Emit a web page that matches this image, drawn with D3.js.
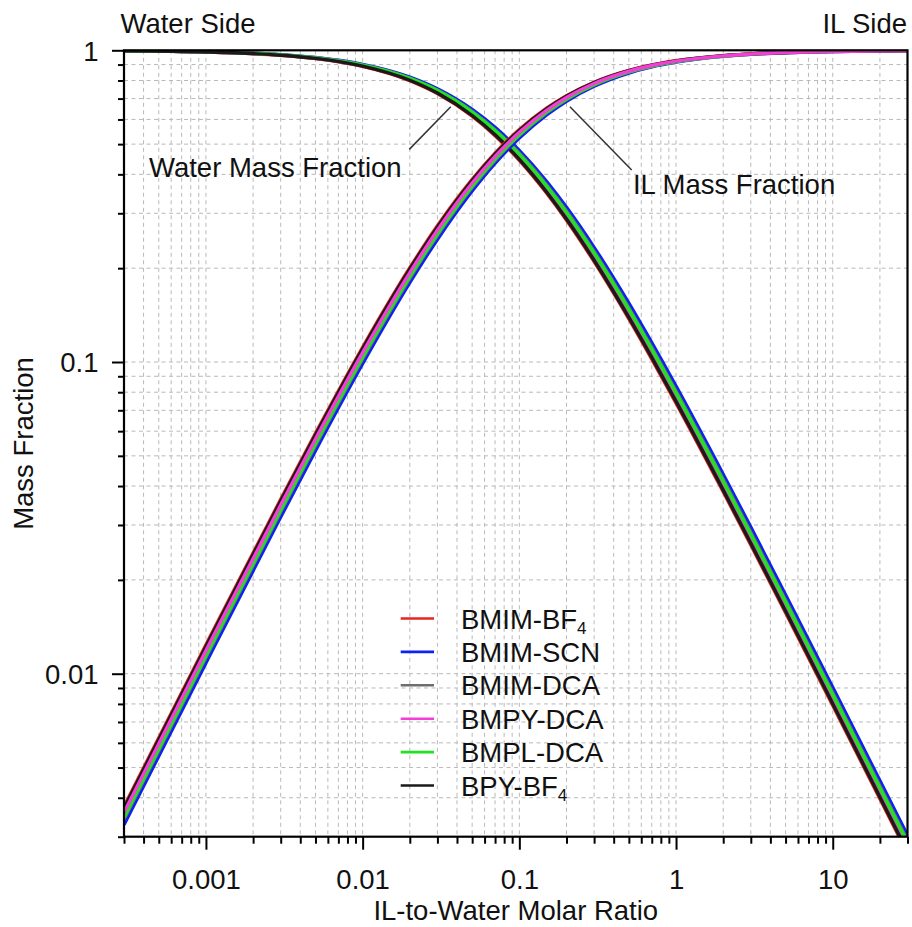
<!DOCTYPE html>
<html>
<head>
<meta charset="utf-8">
<script src="https://cdn.jsdelivr.net/npm/d3@7"></script>
<style>
  html, body { margin: 0; padding: 0; background: #ffffff; }
  svg text { font-family: "Liberation Sans", Arial, Helvetica, sans-serif; fill: #111; }
</style>
</head>
<body>
<svg id="chart" width="912" height="927"></svg>
<script>
// IL-to-water molar ratio at which each mass fraction is tabulated
const ratio = [0.0003, 0.001, 0.003, 0.005, 0.01, 0.02, 0.03, 0.05, 0.07, 0.1, 0.15,
               0.2, 0.3, 0.5, 0.7, 1, 2, 3, 5, 10, 30];

// Ionic liquids (legend labels split into main text and subscript)
const ilNames   = ["BMIM-BF", "BMIM-SCN", "BMIM-DCA", "BMPY-DCA", "BMPL-DCA", "BPY-BF"];
const ilSubs    = ["4", "", "", "", "", "4"];
const ilColors  = ["#e8261e", "#0b22f2", "#6e6e6e", "#f53ed8", "#1fe31f", "#1a1a1a"];

// IL mass fraction, one array per ionic liquid
const ilBMIMBF4 = [0.003750, 0.01239, 0.03627, 0.05903, 0.1115, 0.2006, 0.2735, 0.3855, 0.4676, 0.5565, 0.6530,
                   0.7150, 0.7901, 0.8625, 0.8978, 0.9262, 0.9617, 0.9741, 0.9843, 0.9921, 0.9974];
const ilBMIMSCN = [0.003275, 0.01083, 0.03181, 0.05192, 0.09871, 0.1797, 0.2473, 0.3538, 0.4340, 0.5227, 0.6216,
                   0.6866, 0.7667, 0.8456, 0.8846, 0.9163, 0.9563, 0.9705, 0.9821, 0.9910, 0.9970];
const ilBMIMDCA = [0.003407, 0.01127, 0.03305, 0.05390, 0.1023, 0.1856, 0.2547, 0.3629, 0.4437, 0.5326, 0.6309,
                   0.6950, 0.7737, 0.8507, 0.8886, 0.9193, 0.9580, 0.9716, 0.9827, 0.9913, 0.9971];
const ilBMPYDCA = [0.003589, 0.01186, 0.03477, 0.05663, 0.1072, 0.1936, 0.2648, 0.3751, 0.4566, 0.5456, 0.6430,
                   0.7060, 0.7827, 0.8572, 0.8937, 0.9231, 0.9600, 0.9730, 0.9836, 0.9917, 0.9972];
const ilBMPLDCA = [0.003457, 0.01143, 0.03353, 0.05465, 0.1036, 0.1878, 0.2575, 0.3663, 0.4473, 0.5362, 0.6343,
                   0.6981, 0.7762, 0.8525, 0.8900, 0.9204, 0.9586, 0.9720, 0.9830, 0.9914, 0.9971];
const ilBPYBF4  = [0.003700, 0.01223, 0.03581, 0.05829, 0.1102, 0.1985, 0.2708, 0.3823, 0.4643, 0.5532, 0.6500,
                   0.7123, 0.7879, 0.8609, 0.8965, 0.9253, 0.9612, 0.9738, 0.9841, 0.9920, 0.9973];

// Water mass fraction, one array per ionic liquid
const wBMIMBF4 = [0.9963, 0.9876, 0.9637, 0.9410, 0.8885, 0.7994, 0.7265, 0.6145, 0.5324, 0.4435, 0.3470,
                  0.2850, 0.2099, 0.1375, 0.1022, 0.07382, 0.03833, 0.02588, 0.01569, 0.007908, 0.002650];
const wBMIMSCN = [0.9967, 0.9892, 0.9682, 0.9481, 0.9013, 0.8203, 0.7527, 0.6462, 0.5660, 0.4773, 0.3784,
                  0.3134, 0.2333, 0.1544, 0.1154, 0.08367, 0.04366, 0.02954, 0.01793, 0.009048, 0.003034];
const wBMIMDCA = [0.9966, 0.9887, 0.9669, 0.9461, 0.8977, 0.8144, 0.7453, 0.6371, 0.5563, 0.4674, 0.3691,
                  0.3050, 0.2263, 0.1493, 0.1114, 0.08069, 0.04204, 0.02842, 0.01725, 0.008700, 0.002917];
const wBMPYDCA = [0.9964, 0.9881, 0.9652, 0.9434, 0.8928, 0.8064, 0.7352, 0.6249, 0.5434, 0.4544, 0.3570,
                  0.2940, 0.2173, 0.1428, 0.1063, 0.07689, 0.03998, 0.02702, 0.01639, 0.008261, 0.002769];
const wBMPLDCA = [0.9965, 0.9886, 0.9665, 0.9453, 0.8964, 0.8122, 0.7425, 0.6337, 0.5527, 0.4638, 0.3657,
                  0.3019, 0.2238, 0.1475, 0.1100, 0.07960, 0.04145, 0.02802, 0.01700, 0.008574, 0.002875];
const wBPYBF4  = [0.9963, 0.9878, 0.9642, 0.9417, 0.8898, 0.8015, 0.7292, 0.6177, 0.5357, 0.4468, 0.3500,
                  0.2877, 0.2121, 0.1391, 0.1035, 0.07474, 0.03882, 0.02622, 0.01590, 0.008013, 0.002685];

const ilSeries    = [ilBMIMBF4, ilBMIMSCN, ilBMIMDCA, ilBMPYDCA, ilBMPLDCA, ilBPYBF4];
const waterSeries = [wBMIMBF4, wBMIMSCN, wBMIMDCA, wBMPYDCA, wBMPLDCA, wBPYBF4];

// Axis tick labels
const xTickLabels = ["0.001", "0.01", "0.1", "1", "10"];
const yTickLabels = ["1", "0.1", "0.01"];

// ---- layout ----
const FONT = 27.5;
const plot = { left: 124, right: 907.5, top: 50.3, bottom: 836.7 };

const x = d3.scaleLog().domain([0.0003, 30]).range([plot.left, plot.right]);
const y = d3.scaleLog().domain([0.003, 1]).range([plot.bottom, plot.top]);

const svg = d3.select("#chart");

svg.append("defs").append("clipPath").attr("id", "plot-clip")
  .append("rect")
  .attr("x", plot.left).attr("y", plot.top)
  .attr("width", plot.right - plot.left).attr("height", plot.bottom - plot.top);

// decade multiples (1..9 x 10^k) that fall inside a domain
function logTicks(domain) {
  const out = [];
  for (let k = -5; k <= 3; k++) {
    for (let m = 1; m <= 9; m++) {
      const v = +(m * Math.pow(10, k)).toPrecision(6);
      if (v >= domain[0] * 0.9999 && v <= domain[1] * 1.0001) out.push(v);
    }
  }
  return out;
}
const isMajor = v => Math.abs(Math.log10(v) - Math.round(Math.log10(v))) < 1e-9;

const xAll = logTicks(x.domain());
const yAll = logTicks(y.domain());
const xMajor = xAll.filter(isMajor), xMinor = xAll.filter(v => !isMajor(v));
const yMajor = yAll.filter(isMajor), yMinor = yAll.filter(v => !isMajor(v));

// ---- dashed grid at every major and minor tick ----
const grid = svg.append("g").attr("class", "grid")
  .attr("stroke", "#b9b9b9").attr("stroke-width", 1).attr("stroke-dasharray", "4,3.5");
grid.selectAll("line.gx")
  .data(xAll.filter(v => v > x.domain()[0] * 1.001 && v < x.domain()[1] * 0.999))
  .join("line").attr("class", "gx")
  .attr("x1", d => x(d)).attr("x2", d => x(d))
  .attr("y1", plot.top).attr("y2", plot.bottom);
grid.selectAll("line.gy")
  .data(yAll.filter(v => v > y.domain()[0] * 1.001 && v < y.domain()[1] * 0.999))
  .join("line").attr("class", "gy")
  .attr("y1", d => y(d)).attr("y2", d => y(d))
  .attr("x1", plot.left).attr("x2", plot.right);

// ---- curves ----
const line = d3.line()
  .x((d, i) => x(ratio[i]))
  .y(d => y(d))
  .curve(d3.curveMonotoneX);

const curves = svg.append("g").attr("clip-path", "url(#plot-clip)")
  .attr("fill", "none").attr("stroke-width", 3.4).attr("stroke-linejoin", "round");

// water curves in legend order, IL curves with BMPY-DCA drawn last
const waterOrder = [0, 1, 2, 3, 4, 5];
const ilOrder = [0, 1, 2, 4, 5, 3];

curves.append("g").attr("class", "water")
  .selectAll("path").data(waterOrder).join("path")
  .attr("stroke", i => ilColors[i])
  .attr("d", i => line(waterSeries[i]));

curves.append("g").attr("class", "il")
  .selectAll("path").data(ilOrder).join("path")
  .attr("stroke", i => ilColors[i])
  .attr("d", i => line(ilSeries[i]));

// ---- axes ----
const xAxisMinor = d3.axisBottom(x).tickValues(xMinor).tickSize(7).tickSizeOuter(0).tickFormat("");
const xAxisMajor = d3.axisBottom(x).tickValues(xMajor).tickSize(13).tickSizeOuter(0).tickPadding(20)
  .tickFormat((d, i) => xTickLabels[i]);
const yAxisMinor = d3.axisLeft(y).tickValues(yMinor).tickSize(6).tickSizeOuter(0).tickFormat("");
const yAxisMajor = d3.axisLeft(y).tickValues(yMajor.slice().reverse()).tickSize(12).tickSizeOuter(0).tickPadding(13.5)
  .tickFormat((d, i) => yTickLabels[i]);

function styleAxis(g) {
  g.select(".domain").remove();
  g.selectAll(".tick line").attr("stroke", "#000").attr("stroke-width", 2);
  g.selectAll(".tick text").attr("font-size", FONT).attr("font-family", null).attr("fill", "#111");
}

svg.append("g").attr("transform", `translate(0,${plot.bottom})`).call(xAxisMinor).call(styleAxis);
svg.append("g").attr("transform", `translate(0,${plot.bottom})`).call(xAxisMajor).call(styleAxis);
svg.append("g").attr("transform", `translate(${plot.left},0)`).call(yAxisMinor).call(styleAxis);
const yMaj = svg.append("g").attr("transform", `translate(${plot.left},0)`).call(yAxisMajor).call(styleAxis);
yMaj.selectAll(".tick text").attr("dy", "0.36em");

// frame
svg.append("rect")
  .attr("x", plot.left).attr("y", plot.top)
  .attr("width", plot.right - plot.left).attr("height", plot.bottom - plot.top)
  .attr("fill", "none").attr("stroke", "#000").attr("stroke-width", 2.2);

// axis titles
svg.append("text")
  .attr("x", (plot.left + plot.right) / 2).attr("y", 920)
  .attr("text-anchor", "middle").attr("font-size", FONT)
  .text("IL-to-Water Molar Ratio");
svg.append("text")
  .attr("transform", `translate(33,${(plot.top + plot.bottom) / 2}) rotate(-90)`)
  .attr("text-anchor", "middle").attr("font-size", FONT)
  .text("Mass Fraction");

// side labels above the frame
svg.append("text").attr("x", 120.5).attr("y", 33).attr("font-size", FONT).text("Water Side");
svg.append("text").attr("x", 907).attr("y", 33).attr("text-anchor", "end").attr("font-size", FONT).text("IL Side");

// ---- curve annotations with leader lines ----
const notes = [
  { text: "Water Mass Fraction", tx: 0.000433, ty: 0.393, from: [0.01985, 0.481], to: [0.0365, 0.659] },
  { text: "IL Mass Fraction",    tx: 0.531,    ty: 0.346, from: [0.2104, 0.659], to: [0.521, 0.413] }
];
const ann = svg.append("g").attr("class", "annotations");
ann.selectAll("line").data(notes).join("line")
  .attr("x1", d => x(d.from[0])).attr("y1", d => y(d.from[1]))
  .attr("x2", d => x(d.to[0])).attr("y2", d => y(d.to[1]))
  .attr("stroke", "#333").attr("stroke-width", 1.5);
ann.selectAll("text").data(notes).join("text")
  .attr("x", d => x(d.tx)).attr("y", d => y(d.ty))
  .attr("font-size", FONT)
  .text(d => d.text);

// ---- legend ----
const legend = svg.append("g").attr("class", "legend");
const rowY = i => 618.5 + i * 33.4;
const rows = legend.selectAll("g").data(ilNames).join("g");
rows.append("line")
  .attr("x1", 400.7).attr("x2", 434)
  .attr("y1", (d, i) => rowY(i)).attr("y2", (d, i) => rowY(i))
  .attr("stroke", (d, i) => ilColors[i]).attr("stroke-width", 2.6);
const lt = rows.append("text")
  .attr("x", 461).attr("y", (d, i) => rowY(i) + 10)
  .attr("font-size", FONT);
lt.append("tspan").text(d => d);
lt.filter((d, i) => ilSubs[i] !== "")
  .append("tspan").attr("font-size", 17).attr("dy", 5)
  .text(d => ilSubs[ilNames.indexOf(d)]);
</script>
</body>
</html>
